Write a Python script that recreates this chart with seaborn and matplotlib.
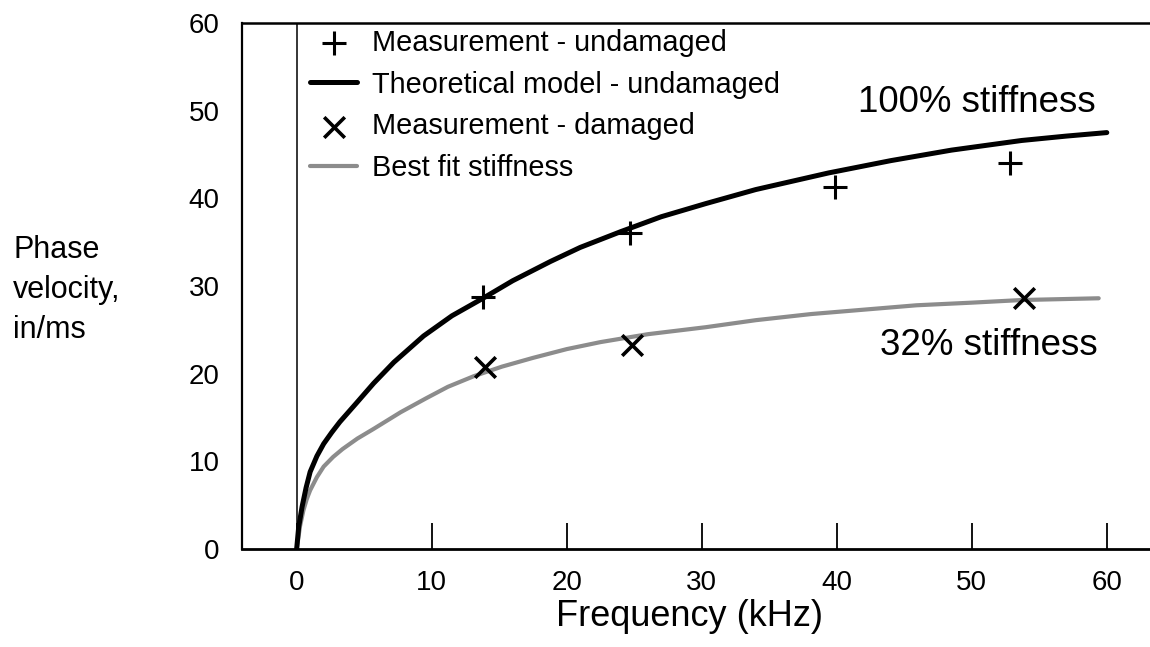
import matplotlib
matplotlib.use("Agg")
import matplotlib.pyplot as plt
import seaborn as sns
import pandas as pd

# ---- data ----
freq_theory = [0, 0.15, 0.4, 0.7, 1.0, 1.5, 2.0, 2.6, 3.2, 4.4, 5.7, 7.2, 9.4, 11.5, 13.8, 16.0,
               18.8, 21.0, 24.0, 27.0, 30.3, 34.0, 39.4, 44.0, 48.5, 53.7, 57.0, 60.0]
vel_theory = [0, 2.5, 4.8, 7.0, 8.8, 10.6, 12.0, 13.3, 14.5, 16.6, 18.9, 21.3, 24.3, 26.6, 28.6, 30.6,
              32.8, 34.4, 36.2, 37.9, 39.4, 41.0, 42.9, 44.3, 45.5, 46.6, 47.1, 47.5]

freq_fit = [0, 0.1, 0.25, 0.5, 0.75, 1.0, 1.5, 2.0, 2.7, 3.4, 4.5, 5.7, 7.7, 9.6, 11.2, 13.1, 15.2,
            17.5, 20.0, 22.5, 26.0, 30.3, 34.0, 38.1, 42.0, 45.9, 50.0, 53.7, 59.4]
vel_fit = [0, 1.0, 2.6, 4.4, 5.7, 6.7, 8.2, 9.4, 10.5, 11.4, 12.6, 13.7, 15.6, 17.2, 18.5, 19.7, 20.8,
           21.8, 22.8, 23.6, 24.5, 25.3, 26.1, 26.8, 27.3, 27.8, 28.1, 28.4, 28.6]

freq_undamaged = [13.8, 24.7, 39.9, 52.8]
vel_undamaged = [28.7, 36.0, 41.3, 44.0]

freq_damaged = [13.95, 24.8, 53.9]
vel_damaged = [20.8, 23.3, 28.6]

x_ticks = [0, 10, 20, 30, 40, 50, 60]
y_ticks = [0, 10, 20, 30, 40, 50, 60]
y_tick_marks = [20, 40]

labels = ["Measurement - undamaged", "Theoretical model - undamaged",
          "Measurement - damaged", "Best fit stiffness"]

df_theory = pd.DataFrame({"f": freq_theory, "v": vel_theory})
df_fit = pd.DataFrame({"f": freq_fit, "v": vel_fit})
df_und = pd.DataFrame({"f": freq_undamaged, "v": vel_undamaged})
df_dam = pd.DataFrame({"f": freq_damaged, "v": vel_damaged})

sns.set_style("white")
plt.rcParams["font.family"] = ["Liberation Sans", "DejaVu Sans"]
plt.rcParams["text.color"] = "black"
plt.rcParams["axes.labelcolor"] = "black"
plt.rcParams["xtick.color"] = "black"
plt.rcParams["ytick.color"] = "black"

fig = plt.figure(figsize=(11.5, 6.47), dpi=100)
ax = fig.add_axes([241.7 / 1150, 98 / 647, (1150 - 241.7) / 1150, 526 / 647])

ax.axvline(0, color="black", lw=1.1, zorder=1)

sns.lineplot(data=df_fit, x="f", y="v", ax=ax, color="#8c8c8c", lw=3.0,
             label=labels[3], sort=False, zorder=2)
sns.lineplot(data=df_theory, x="f", y="v", ax=ax, color="black", lw=3.6,
             label=labels[1], sort=False, zorder=3)
sns.scatterplot(data=df_und, x="f", y="v", ax=ax, marker="+", s=280,
                color="black", linewidth=2.2, label=labels[0], zorder=4)
sns.scatterplot(data=df_dam, x="f", y="v", ax=ax, marker="x", s=220,
                color="black", linewidth=2.6, label=labels[2], zorder=4)

ax.set_xlim(-4.07, 63.2)
ax.set_ylim(0, 60)

for side in ["left", "bottom", "top"]:
    ax.spines[side].set_visible(True)
    ax.spines[side].set_color("black")
ax.spines["left"].set_linewidth(1.6)
ax.spines["bottom"].set_linewidth(2.0)
ax.spines["top"].set_linewidth(1.8)
ax.spines["right"].set_visible(False)

ax.set_xticks(x_ticks)
ax.set_xticklabels([str(t) for t in x_ticks])
ax.tick_params(axis="x", which="major", direction="in", length=19, width=1.3,
               pad=15, labelsize=20, bottom=True, colors="black")
ax.set_yticks(y_ticks)
ax.set_yticklabels([str(t) for t in y_ticks])
ax.tick_params(axis="y", which="major", length=0, pad=16, labelsize=20, left=True,
               colors="black")
ax.set_yticks(y_tick_marks, minor=True)
ax.tick_params(axis="y", which="minor", direction="in", length=18, width=1.5,
               left=True, colors="black")

ax.set_xlabel("Frequency (kHz)", fontsize=26, color="black")
ax.xaxis.set_label_coords((690 - 241.7) / 908.3, -0.096)
ax.set_ylabel("")

for txt, yb in [("Phase", 258), ("velocity,", 298), ("in/ms", 338)]:
    fig.text(13 / 1150, 1 - yb / 647, txt, ha="left", va="baseline", fontsize=22,
             color="black")

ax.text(59.2, 49.8, "100% stiffness", ha="right", va="baseline", fontsize=26.5,
        color="black")
ax.text(59.3, 22.1, "32% stiffness", ha="right", va="baseline", fontsize=26.5,
        color="black")

handles, labs = ax.get_legend_handles_labels()
hmap = dict(zip(labs, handles))
leg = ax.legend([hmap[l] for l in labels], labels, loc="upper left",
                bbox_to_anchor=(310 / 1150, 1 - 29 / 647), bbox_transform=fig.transFigure,
                frameon=False, fontsize=20.8, handlelength=1.63, handletextpad=0.52,
                labelspacing=0.47, borderpad=0, borderaxespad=0)
for t in leg.get_texts():
    t.set_color("black")

fig.savefig("out.png", dpi=100)
